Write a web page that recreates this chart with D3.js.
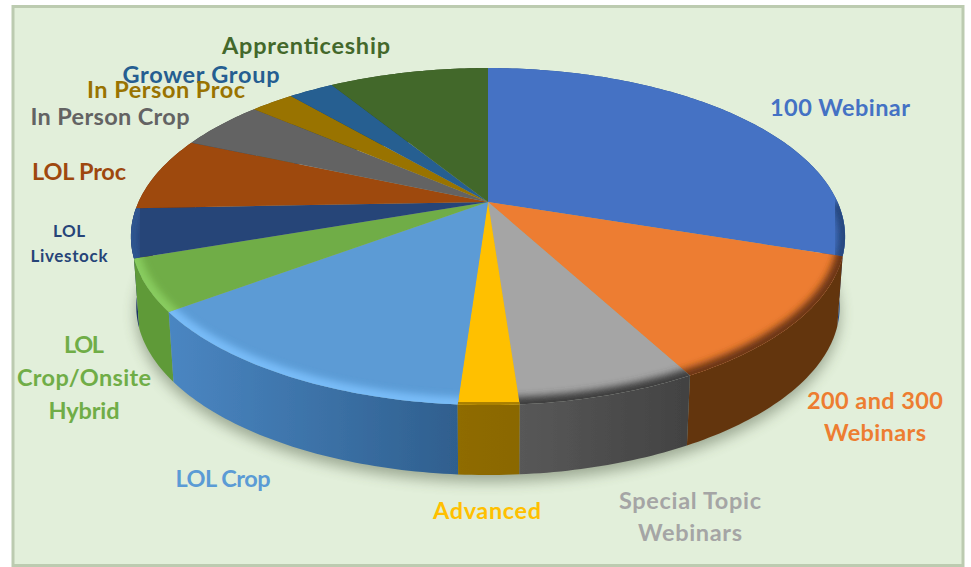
<!DOCTYPE html>
<svg width="971" height="567"></svg>
<script src="https://d3js.org/d3.v7.min.js"></script>
<style>
  body {
    margin: 0;
    background: #fff;
  }
  svg {
    display: block;
  }
  .label {
    font-family: Lato, "Open Sans", sans-serif;
    font-weight: 700;
    text-anchor: middle;
  }
</style>
<script>
// shares, clockwise from 12 o'clock
var categories = ["100 Webinar", "200 and 300 Webinars", "Special Topic Webinars", "Advanced", "LOL Crop",
  "LOL Crop/Onsite Hybrid", "LOL Livestock", "LOL Proc", "In Person Crop", "In Person Proc", "Grower Group", "Apprenticeship"];
var values = [30.1, 12.05, 6.7, 2.25, 13.7, 4.9, 4.7, 7.1, 4.8, 2.4, 2.5, 8.8];

var topColors = ["#4472c4", "#ed7d31", "#a5a5a5", "#ffc000", "#5b9bd5", "#70ad47", "#264478", "#9e480e", "#636363", "#997300", "#255e91", "#43682b"];
var wallLeft = ["#2f528f", "#64340f", "#585858", "#8f6c00", "#4a86c2", "#5f9a38", "#1c3563", "#6e320a", "#444", "#6b5000", "#1a4266", "#2f491e"];
var wallRight = ["#2a4a82", "#64340f", "#424242", "#8a6700", "#2f5f8e", "#5f9a38", "#1c3563", "#6e320a", "#444", "#6b5000", "#1a4266", "#2f491e"];
var rimColors = ["#26467e", "#6a3512", "#3c3c3c", "#a67d00", "#78bcf8", "#88cc5e", "#2f5590", "#9e480e", "#636363", "#997300", "#255e91", "#43682b"];

// label text lines, in the order they get painted
var labelLines = [
  ["100 Webinar"], ["200 and 300", "Webinars"], ["Special Topic", "Webinars"], ["Advanced"], ["LOL Crop"],
  ["LOL", "Crop/Onsite", "Hybrid"], ["LOL", "Livestock"], ["LOL Proc"], ["In Person Crop"], ["Grower Group"], ["In Person Proc"], ["Apprenticeship"]
];
var labelWidths = [[140], [136, 102], [142, 104], [108], [95], [40, 134, 71], [32, 77], [94], [159], [157], [158], [168]];
var labelColors = ["#4472c4", "#ed7d31", "#a5a5a5", "#ffc000", "#5b9bd5", "#70ad47", "#264478", "#9e480e", "#636363", "#255e91", "#997300", "#43682b"];
var labelPos = [[840, 116], [875, 409], [690, 509], [487, 519], [223, 487], [84, 353], [69, 237], [79, 180], [110, 125], [201, 83], [166, 98], [306, 54]];
var labelSize = [23.5, 23.5, 23.5, 23.5, 23.5, 23.5, 17, 23.5, 23.5, 23.5, 23.5, 23.5];
var labelStep = [0, 32, 32, 0, 0, 33, 25, 0, 0, 0, 0, 0];

var svg = d3.select("svg"),
    width = +svg.attr("width"),
    height = +svg.attr("height");

var defs = svg.append("defs");
defs.append("filter").attr("id", "soft").attr("x", "-20%").attr("y", "-20%").attr("width", "140%").attr("height", "140%")
    .append("feGaussianBlur").attr("stdDeviation", 7);
defs.append("filter").attr("id", "rim").attr("x", "-20%").attr("y", "-20%").attr("width", "140%").attr("height", "140%")
    .append("feGaussianBlur").attr("stdDeviation", 3.5);
defs.append("filter").attr("id", "edge")
    .append("feGaussianBlur").attr("stdDeviation", 0.5);

// perspective of the disc: far side is squeezed, near side stretched
var k = 0.205;
var x = d3.scaleLinear().domain([-1, 1]).range([488 - 349.5, 488 + 349.5]);
var y = d3.scaleLinear().domain([-1, 1]).range([202 + 161.4, 202 - 161.4]);
var depth = 70;

var project = function(r, a) {
  var X = r * Math.sin(a), Z = r * Math.cos(a), w = 1 + k * Z;
  return [x(X / w), y(Z / w)];
};
var projectLow = function(a) {
  var p = project(1, a);
  return [x(0) + (p[0] - x(0)) * 0.985, p[1] + depth];
};

var line = d3.line();
var sample = function(a0, a1) {
  var n = Math.max(2, Math.ceil((a1 - a0) * 60));
  return d3.range(n + 1).map(function(i) { return a0 + (a1 - a0) * i / n; });
};

var slices = d3.pie().sort(null).startAngle(0).endAngle(2 * Math.PI)(values);

var topPath = function(d) {
  return line([project(0, 0)].concat(sample(d.startAngle, d.endAngle).map(function(a) { return project(1, a); }))) + "Z";
};
var wallPath = function(d) {
  var a = sample(d.startAngle, d.endAngle);
  return line(a.map(function(t) { return project(1, t); }).concat(a.slice().reverse().map(projectLow))) + "Z";
};

// background panel
svg.append("rect").attr("width", width).attr("height", height).attr("fill", "#fff");
svg.append("rect").attr("x", 13).attr("y", 6.5).attr("width", 950).attr("height", 559)
    .attr("fill", "#e2efda").attr("stroke", "#bccbb0").attr("stroke-width", 3);

// soft shadow under the disc
svg.append("path")
    .attr("d", line(sample(0, 2 * Math.PI).map(projectLow)) + "Z")
    .attr("transform", "translate(0,7)")
    .attr("fill", "#3c4a30")
    .attr("opacity", 0.42)
    .attr("filter", "url(#soft)");

var pie = svg.append("g").attr("filter", "url(#edge)");

slices.forEach(function(d, i) {
  var xa = project(1, d.startAngle)[0], xb = project(1, d.endAngle)[0];
  var grad = defs.append("linearGradient").attr("id", "wall" + i)
      .attr("gradientUnits", "userSpaceOnUse")
      .attr("x1", Math.min(xa, xb))
      .attr("x2", Math.max(xa, xb))
      .attr("y1", 0).attr("y2", 0);
  grad.append("stop").attr("offset", 0).attr("stop-color", wallLeft[i]);
  grad.append("stop").attr("offset", 1).attr("stop-color", wallRight[i]);

  defs.append("clipPath").attr("id", "clip" + i).append("path").attr("d", topPath(d));
});

// walls go back to front, the tops then cover whatever is out of sight
var wallOrder = d3.range(slices.length).sort(function(a, b) {
  var mid = function(d) { return (d.startAngle + d.endAngle) / 2; };
  return Math.cos(mid(slices[b])) - Math.cos(mid(slices[a]));
});
pie.selectAll(".wall")
    .data(wallOrder)
  .enter().append("path")
    .attr("class", "wall")
    .attr("d", function(i) { return wallPath(slices[i]); })
    .attr("fill", function(i) { return "url(#wall" + i + ")"; });

pie.selectAll(".top")
    .data(slices)
  .enter().append("path")
    .attr("class", "top")
    .attr("d", topPath)
    .attr("fill", function(d, i) { return topColors[i]; });

// bevel along the near rim of each slice, fades from the edge inwards
var frontFrom = 1.62, frontTo = 4.66;
slices.forEach(function(d, i) {
  var a0 = Math.max(d.startAngle, frontFrom), a1 = Math.min(d.endAngle, frontTo);
  if (a1 <= a0) return;
  pie.append("g").attr("clip-path", "url(#clip" + i + ")")
    .append("path")
      .attr("d", line(sample(a0 - 0.05, a1 + 0.05).map(function(a) { return project(1, a); })))
      .attr("fill", "none")
      .attr("stroke", rimColors[i])
      .attr("stroke-width", 15)
      .attr("filter", "url(#rim)");
});

// labels
labelLines.forEach(function(lines, i) {
  var t = svg.append("text")
      .attr("class", "label")
      .attr("fill", labelColors[i])
      .style("font-size", labelSize[i] + "px");
  lines.forEach(function(s, j) {
    t.append("tspan")
        .attr("x", labelPos[i][0])
        .attr("y", labelPos[i][1] + j * labelStep[i])
        .attr("textLength", labelWidths[i][j])
        .attr("lengthAdjust", "spacing")
        .text(s);
  });
});
</script>
